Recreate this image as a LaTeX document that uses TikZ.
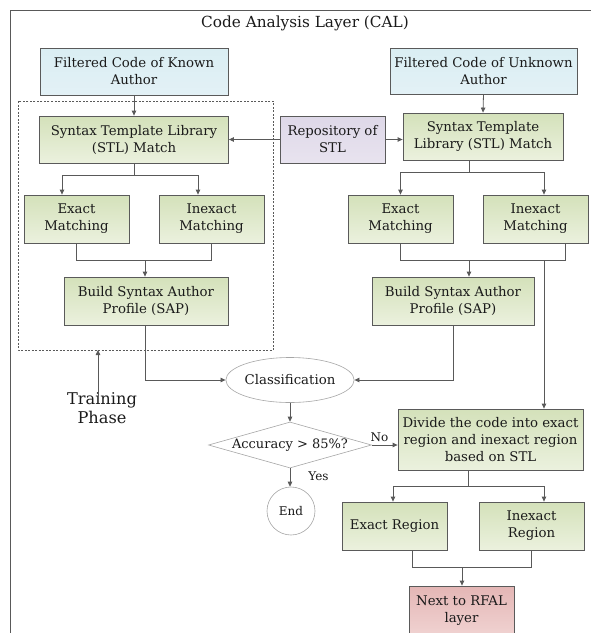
\documentclass[tikz,border=0pt]{standalone}
\usepackage{fontspec}
\setmainfont{DejaVu Serif}
\usetikzlibrary{shapes.geometric,arrows.meta,shadings}
\definecolor{bdr}{HTML}{5A5A5A}
\definecolor{lnk}{HTML}{595959}
\definecolor{blueT}{HTML}{DAEEF3}
\definecolor{blueB}{HTML}{E3F1F6}
\definecolor{greenT}{HTML}{D4E1BA}
\definecolor{greenB}{HTML}{EBF1DE}
\definecolor{purpT}{HTML}{DED8E8}
\definecolor{purpB}{HTML}{E8E3EF}
\definecolor{redT}{HTML}{E4B6B5}
\definecolor{redB}{HTML}{F2D6D5}
\definecolor{lightline}{HTML}{A6A6A6}
\definecolor{txtc}{HTML}{1A1A1A}
\tikzset{
  txt/.style={font=\fontsize{13.3}{17}\selectfont, text=txtc, align=center, inner sep=0pt},
  basebox/.style={txt, draw=bdr, line width=0.8pt},
  bluebox/.style={basebox, top color=blueT, bottom color=blueB},
  greenbox/.style={basebox, top color=greenT, bottom color=greenB},
  purpbox/.style={basebox, top color=purpT, bottom color=purpB},
  redbox/.style={basebox, top color=redT, bottom color=redB},
  lightshape/.style={txt, draw=lightline, fill=white, line width=0.6pt},
  link/.style={draw=lnk, line width=0.8pt},
  arr/.style={link, -{Triangle[length=5pt,width=4.5pt]}},
  smalltxt/.style={font=\fontsize{12}{14}\selectfont, text=txtc, inner sep=0pt}
}
\begin{document}
\begin{tikzpicture}[x=1pt,y=-1pt]
\useasboundingbox (0,0) rectangle (591,633);
% frame
\draw[link, line width=1pt] (10,633) -- (10,10) -- (591,10);
\node[txt, font=\fontsize{15.3}{18}\selectfont] (title) at (305,23) {Code Analysis Layer (CAL)};
% dashed training region
\draw[draw=bdr, dashed, line width=0.6pt, dash pattern=on 2pt off 1.5pt] (18,101) rectangle (273,350);
\coordinate (tpbox) at (98,350);
% boxes
\node[bluebox, minimum width=188pt, minimum height=47pt] (known) at (134,71.5) {Filtered Code of Known\\Author};
\node[bluebox, minimum width=187pt, minimum height=46pt] (unknown) at (483.5,71) {Filtered Code of Unknown\\Author};
\node[greenbox, minimum width=189pt, minimum height=47pt] (stlL) at (134,139.5) {Syntax Template Library\\(STL) Match};
\node[purpbox, minimum width=105pt, minimum height=47pt] (repo) at (332.5,139.5) {Repository of\\STL};
\node[greenbox, minimum width=160pt, minimum height=47pt] (stlR) at (483,136.5) {Syntax Template\\Library (STL) Match};
\node[greenbox, minimum width=105pt, minimum height=48pt] (exL) at (76.5,219) {Exact\\Matching};
\node[greenbox, minimum width=105pt, minimum height=48pt] (inexL) at (211.5,219) {Inexact\\Matching};
\node[greenbox, minimum width=164pt, minimum height=48pt] (sapL) at (146,301) {Build Syntax Author\\Profile (SAP)};
\node[greenbox, minimum width=105pt, minimum height=48pt] (exR) at (400.5,219) {Exact\\Matching};
\node[greenbox, minimum width=105pt, minimum height=48pt] (inexR) at (535.5,219) {Inexact\\Matching};
\node[greenbox, minimum width=162pt, minimum height=48pt] (sapR) at (453,301) {Build Syntax Author\\Profile (SAP)};
\node[lightshape, ellipse, minimum width=125pt, minimum height=45pt] (cls) at (290,380) {Classification};
\node[lightshape, diamond, aspect=3.5, minimum width=163pt, minimum height=46pt, font=\fontsize{13}{17}\selectfont] (dia) at (290,445) {Accuracy > 85\%?};
\node[lightshape, circle, minimum size=48pt, font=\fontsize{12}{14}\selectfont] (endn) at (291,511) {End};
\node[greenbox, minimum width=185pt, minimum height=61pt] (divide) at (490.5,439.5) {Divide the code into exact\\region and inexact region\\based on STL};
\node[greenbox, minimum width=105pt, minimum height=48pt] (exReg) at (394.5,526) {Exact Region};
\node[greenbox, minimum width=105pt, minimum height=48pt] (inexReg) at (531.5,526) {Inexact\\Region};
\node[redbox, minimum width=105pt, minimum height=56pt, text depth=0pt] (next) at (461.5,614) {};
\node[txt] (nexttxt) at (461.5,611) {Next to RFAL\\layer};
\node[txt, font=\fontsize{16.2}{18.5}\selectfont] (tp) at (102,408) {Training\\Phase};
% junction coordinates
\coordinate (jL) at (134,175);
\coordinate (jR) at (469,172);
\coordinate (mL) at (145,260);
\coordinate (mR) at (469,260);
\coordinate (dv) at (544,260);
\coordinate (jD) at (468,486);
\coordinate (mD) at (462,567);
% connectors
\draw[arr] (known.south) -- (known.south -| stlL.north) -- (stlL.north);
\draw[arr] (unknown.south) -- (stlR.north);
\draw[arr] (repo.west) -- (stlL.east);
\draw[arr] (repo.east) -- (repo.east -| stlR.west);
\draw[link] (stlL.south) -- (jL);
\draw[arr] (jL) -| ([xshift=-14.5pt]exL.north);
\draw[arr] (jL) -| ([xshift=-13.5pt]inexL.north);
\draw[link] (stlR.south -| jR) -- (jR);
\draw[arr] (jR) -| (exR.north);
\draw[arr] (jR) -| ([xshift=8.5pt]inexR.north);
\draw[link] (exL.south) |- (mL);
\draw[link] (inexL.south) |- (mL);
\draw[arr] (mL) -- (mL |- sapL.north);
\draw[link] (exR.south) |- (mR);
\draw[link] ([xshift=29.5pt]inexR.south) |- (mR);
\draw[arr] (mR) -- (mR |- sapR.north);
\draw[arr] (dv) -- (dv |- divide.north);
\draw[arr] ([xshift=-1pt]sapL.south) |- (cls.west);
\draw[arr] (sapR.south) |- (cls.east);
\draw[arr] (cls.south) -- (dia.north);
\draw[arr] (dia.east) -- (dia.east -| divide.west) node[smalltxt, pos=0.3, above=3pt] (nolbl) {No};
\draw[arr] (dia.south) -- (dia.south |- endn.north) node[smalltxt, pos=0.45, right=18pt] (yeslbl) {Yes};
\draw[link] (divide.south -| jD) -- (jD);
\draw[arr] (jD) -| ([xshift=-1.5pt]exReg.north);
\draw[arr] (jD) -| ([xshift=12.5pt]inexReg.north);
\draw[link] ([xshift=17.5pt]exReg.south) |- (mD);
\draw[link] (inexReg.south) |- (mD);
\draw[arr] (mD) -- (mD |- next.north);
\draw[arr] (tpbox |- tp.north) ++(0,4) -- (tpbox);
\end{tikzpicture}
\end{document}
